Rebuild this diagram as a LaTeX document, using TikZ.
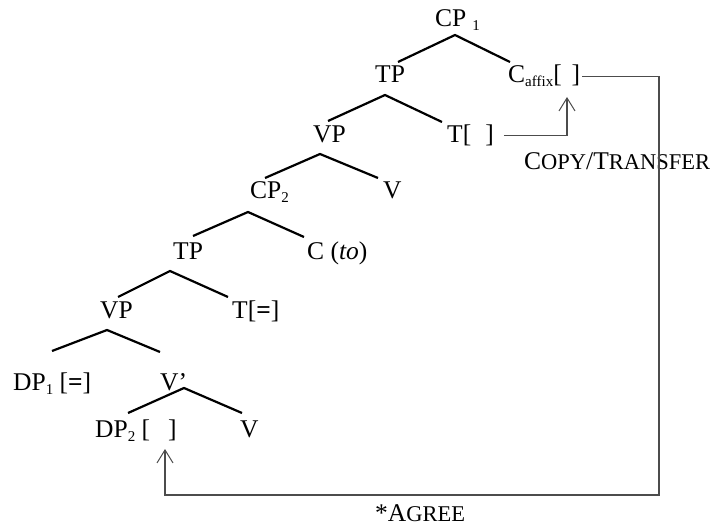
\documentclass[tikz,border=0pt]{standalone}
\usepackage{fontspec}
\setmainfont{Liberation Serif}
\usetikzlibrary{arrows.meta}
\newcommand\subs[1]{\raisebox{-4bp}{\fontsize{15bp}{15bp}\selectfont #1}}
\newcommand\fsc[1]{{\fontsize{22.5bp}{22.5bp}\selectfont #1}}
\begin{document}
\begin{tikzpicture}[x=1bp,y=-1bp,
  lbl/.style={anchor=base west, inner sep=0pt, font=\fontsize{25.5bp}{30bp}\selectfont},
  branch/.style={line width=2.2bp},
  conn/.style={line width=1.2bp, black!70},
  arr/.style={conn, -{Straight Barb[length=13bp,width=16bp,line width=1bp]}}]
\useasboundingbox (0,0) rectangle (725,527);
% labels
\node[lbl] (cp1) at (435,27) {CP\hspace{6bp}\subs{1}};
\node[lbl] (tp1) at (375,83) {TP};
\node[lbl] (caffix) at (508,83) {C\subs{affix}[\hspace{10bp}]};
\node[lbl] (vp1) at (313,143) {VP};
\node[lbl] (t1) at (447,143) {T[\hspace{14bp}]};
\node[lbl] (cp2) at (250,199) {CP\subs{2}};
\node[lbl] (v1) at (383,199) {V};
\node[lbl] (tp2) at (173,260) {TP};
\node[lbl] (cto) at (307,260) {C (\textit{to})};
\node[lbl] (vp2) at (100,318) {VP};
\node[lbl] (t2) at (232,318) {T[\textbf{=}]};
\node[lbl] (dp1) at (13,390) {DP\subs{1} [\textbf{=}]};
\node[lbl] (vbar) at (160,390) {V’};
\node[lbl] (dp2) at (95,437) {DP\subs{2} [\hspace{18bp}]};
\node[lbl] (v2) at (240,437) {V};
\node[lbl] (copy) at (524,170) {C\fsc{OPY}/T\fsc{RANSFER}};
\node[lbl] (agree) at (375,521) {*A\fsc{GREE}};
% branches
\coordinate (a1) at (455,35);  \coordinate (l1) at (398,62);  \coordinate (r1) at (510,62);
\coordinate (a2) at (385,95);  \coordinate (l2) at (328,121); \coordinate (r2) at (442,122);
\coordinate (a3) at (320,154); \coordinate (l3) at (265,178); \coordinate (r3) at (378,178);
\coordinate (a4) at (248,212); \coordinate (l4) at (193,236); \coordinate (r4) at (304,237);
\coordinate (a5) at (170,271); \coordinate (l5) at (118,297); \coordinate (r5) at (228,297);
\coordinate (a6) at (107,330); \coordinate (l6) at (52,351);  \coordinate (r6) at (160,352);
\coordinate (a7) at (184,388); \coordinate (l7) at (128,413); \coordinate (r7) at (242,413);
\foreach \i in {1,...,7} {\draw[branch] (l\i) -- (a\i) -- (r\i);}
% arrows
\coordinate (copytip) at (567,97);
\draw[arr] ([xshift=10bp]t1.east) -| (copytip);
\coordinate (agreecorner) at (659,495);
\coordinate (agreetip) at (165,449);
\draw[arr] ([xshift=2bp]caffix.east) -| (agreecorner) -| (agreetip);
\end{tikzpicture}
\end{document}
